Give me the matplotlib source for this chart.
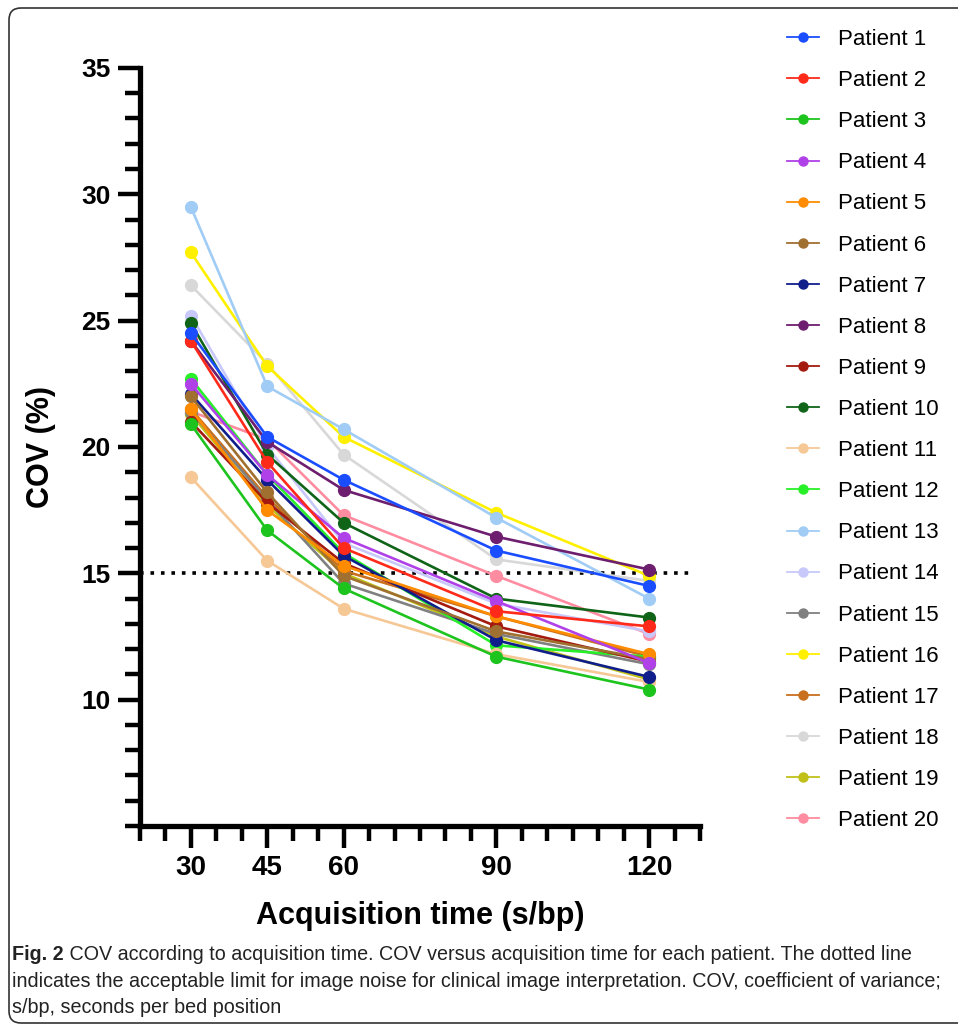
import numpy as np
import matplotlib
matplotlib.use("Agg")
import matplotlib.pyplot as plt
from matplotlib.lines import Line2D
from matplotlib.patches import FancyBboxPatch
from matplotlib.ticker import MultipleLocator, FixedLocator

plt.rcParams['font.family'] = ['Liberation Sans', 'DejaVu Sans']

# acquisition time (s/bp)
times = [30, 45, 60, 90, 120]

# COV (%) per patient
p1 = [24.5, 20.4, 18.7, 15.9, 14.5]
p2 = [24.2, 19.4, 16.0, 13.5, 12.9]
p3 = [20.9, 16.7, 14.4, 11.7, 10.4]
p4 = [22.5, 18.9, 16.4, 13.9, 11.45]
p5 = [21.5, 17.5, 15.3, 13.3, 11.8]
p6 = [22.0, 18.2, 14.9, 12.7, 11.6]
p7 = [22.1, 18.7, 15.7, 12.35, 10.9]
p8 = [24.2, 20.2, 18.3, 16.45, 15.15]
p9 = [21.0, 17.8, 15.4, 12.9, 11.5]
p10 = [24.9, 19.7, 17.0, 14.0, 13.25]
p11 = [18.8, 15.5, 13.6, 11.8, 10.7]
p12 = [22.7, 18.9, 15.8, 12.15, 11.7]
p13 = [29.5, 22.4, 20.7, 17.2, 14.0]
p14 = [25.2, 20.0, 16.2, 13.8, 12.7]
p15 = [21.4, 17.9, 14.6, 12.6, 11.4]
p16 = [27.7, 23.2, 20.4, 17.4, 14.9]
p17 = [21.5, 18.0, 15.1, 13.3, 11.7]
p18 = [26.4, 23.3, 19.7, 15.55, 14.7]
p19 = [21.3, 17.7, 15.0, 12.5, 10.8]
p20 = [21.4, 20.3, 17.3, 14.9, 12.6]

patients = [p1, p2, p3, p4, p5, p6, p7, p8, p9, p10,
            p11, p12, p13, p14, p15, p16, p17, p18, p19, p20]
labels = [f'Patient {i}' for i in range(1, 21)]
colors = ['#1A4DFF', '#FF2A1A', '#1EC41E', '#B040E8', '#FF8C00',
          '#A07030', '#101E8C', '#6E1E6E', '#A51A0F', '#0F6418',
          '#F5C896', '#28F028', '#A0CCF5', '#C8C8FA', '#808080',
          '#FFF000', '#C8701E', '#D8D8D8', '#C0C018', '#FF8CA0']

limit = 15

fig = plt.figure(figsize=(9.58, 10.28), dpi=100)
ax = fig.add_axes([0.1461, 0.1965, 0.5846, 0.7374])

# later patients underneath, patient 1 on top
for i in range(len(patients) - 1, -1, -1):
    ax.plot(times, patients[i], color=colors[i], lw=1.9, marker='o', ms=8.5,
            zorder=3 + (20 - i) * 0.01)

ax.axhline(limit, xmin=0, xmax=0.98, color='black', lw=2.6,
           linestyle=(0, (1, 1.9)), zorder=2)

ax.set_xlim(20, 130)
ax.set_ylim(5, 35)
ax.xaxis.set_major_locator(FixedLocator(times))
ax.xaxis.set_minor_locator(MultipleLocator(5))
ax.yaxis.set_major_locator(FixedLocator([10, 15, 20, 25, 30, 35]))
ax.yaxis.set_minor_locator(MultipleLocator(1))

for s in ['top', 'right']:
    ax.spines[s].set_visible(False)
for s in ['left', 'bottom']:
    ax.spines[s].set_linewidth(3.8)
    ax.spines[s].set_capstyle('projecting')

ax.tick_params(which='major', length=16, width=3.2, pad=5)
ax.tick_params(which='minor', length=10.5, width=3.2)
ax.tick_params(axis='x', labelsize=20)
ax.tick_params(axis='y', labelsize=19)
for t in ax.get_xticklabels() + ax.get_yticklabels():
    t.set_fontweight('bold')

ax.set_xlabel('Acquisition time (s/bp)', fontsize=22, fontweight='bold', labelpad=14)
ax.set_ylabel('COV (%)', fontsize=22, fontweight='bold', labelpad=18)

handles = [Line2D([], [], color=c, lw=1.3, marker='o', ms=6.5) for c in colors]
fig.legend(handles, labels, loc='upper left', bbox_to_anchor=(0.8215, 0.9718),
           frameon=False, fontsize=16, handlelength=1.45, handletextpad=0.85,
           labelspacing=0.905, borderpad=0, borderaxespad=0)

# frame round the figure
fig.add_artist(FancyBboxPatch((0.09, 0.05), 9.8, 10.15,
                              boxstyle='round,pad=0,rounding_size=0.12',
                              transform=fig.dpi_scale_trans, fill=False,
                              edgecolor='#333333', lw=1.2))

cap_font = ['Liberation Sans Narrow', 'Liberation Sans']
cap_size = 14.2
fig_txt = fig.text(12 / 958, 1 - 960 / 1028, 'Fig. 2', fontsize=cap_size,
                   fontweight='bold', family=cap_font, va='baseline', color='#222222')
ax.annotate(' COV according to acquisition time. COV versus acquisition time for each patient. The dotted line',
            xy=(1, 0), xycoords=fig_txt, xytext=(0, 0), textcoords='offset points',
            va='bottom', ha='left', fontsize=cap_size, family=cap_font, color='#222222',
            annotation_clip=False)
fig.text(12 / 958, 1 - 987 / 1028,
         'indicates the acceptable limit for image noise for clinical image interpretation. COV, coefficient of variance;',
         fontsize=cap_size, family=cap_font, va='baseline', color='#222222')
fig.text(12 / 958, 1 - 1013 / 1028, 's/bp, seconds per bed position',
         fontsize=cap_size, family=cap_font, va='baseline', color='#222222')

fig.savefig('out.png', dpi=100)
